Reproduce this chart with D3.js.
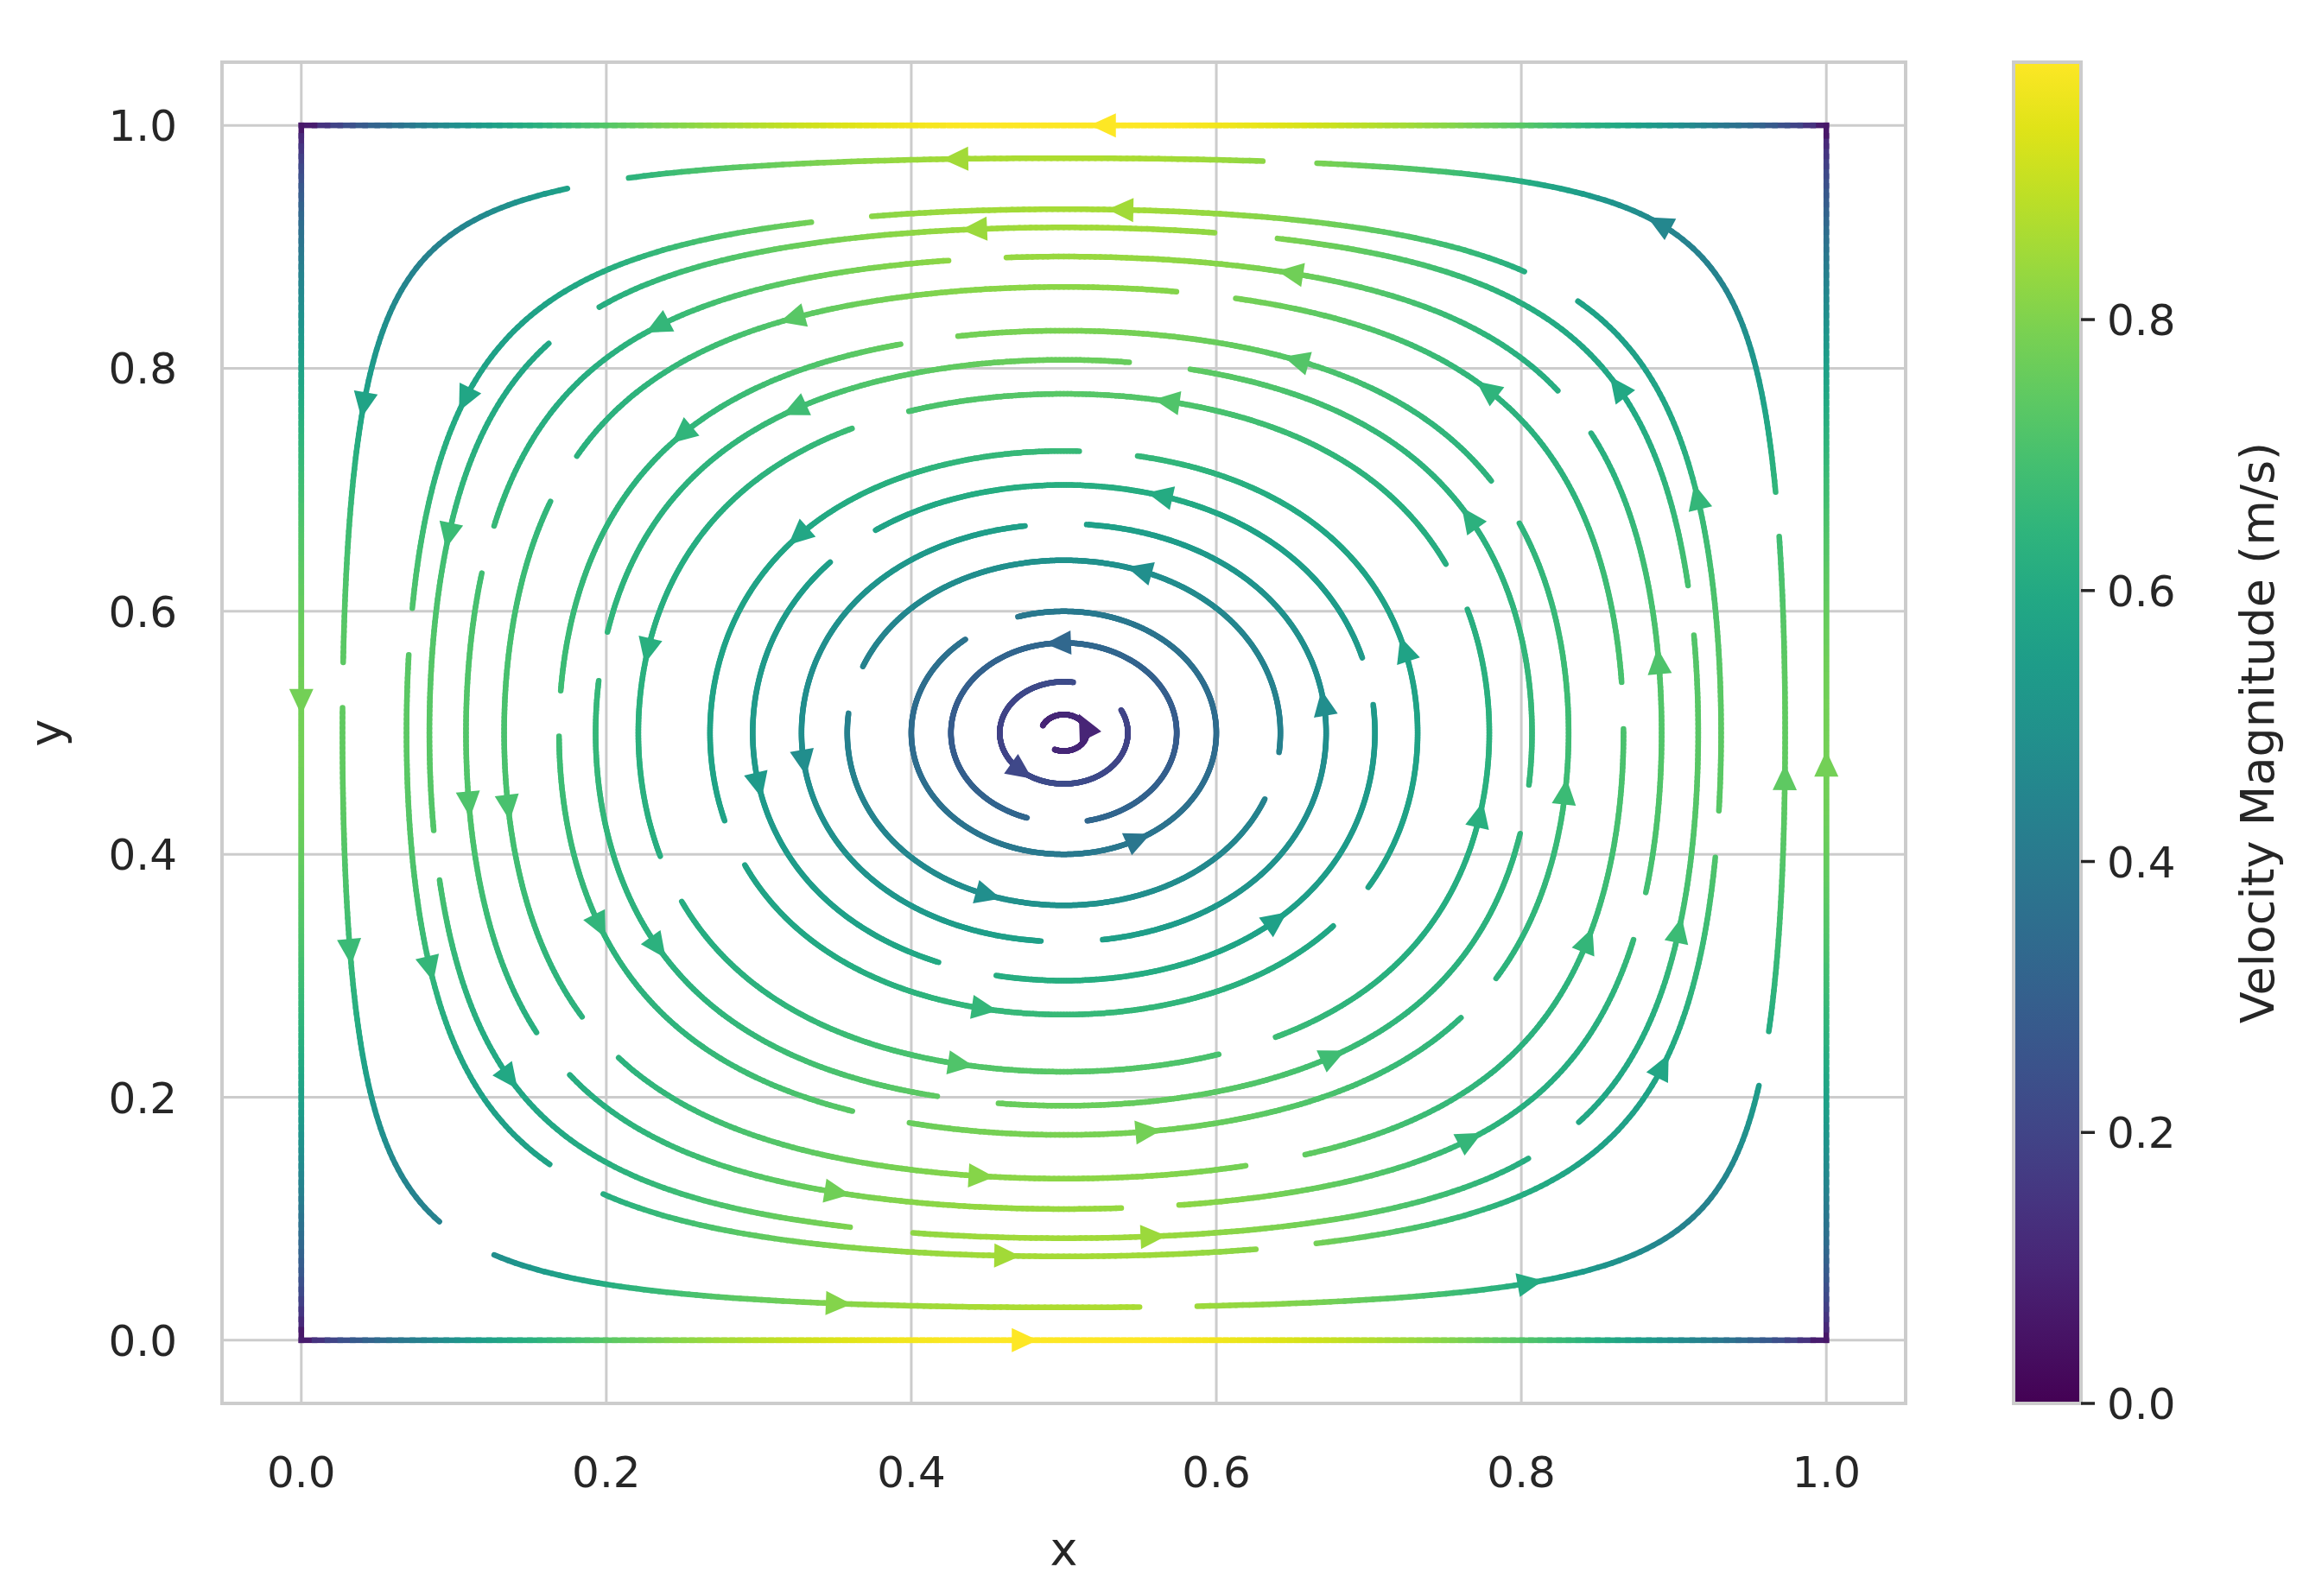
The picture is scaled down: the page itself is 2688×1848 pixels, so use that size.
<!DOCTYPE html>
<html lang="en">
<head>
  <meta charset="UTF-8">
  <script src="https://d3js.org/d3.v7.min.js"></script>
  <title>Lid vortex streamlines</title>
  <style>
    body { margin: 0; background: #fff; }
    text { font-family: "DejaVu Sans", sans-serif; fill: #262626; }
  </style>
</head>
<body>
<svg id="chart" width="2688" height="1848"></svg>
<script>
  // where each streamline crosses y = 0.5 on the right-hand side
  const loopCrossings = [1.0, 0.973, 0.931, 0.916, 0.892, 0.867, 0.831, 0.807, 0.779,
    0.732, 0.704, 0.672, 0.642, 0.6, 0.574, 0.542, 0.515];
  const xTicks = [0.0, 0.2, 0.4, 0.6, 0.8, 1.0];
  const yTicks = [0.0, 0.2, 0.4, 0.6, 0.8, 1.0];
  const barTicks = [0.0, 0.2, 0.4, 0.6, 0.8];
  const speedMax = 0.99;

  const svg = d3.select('#chart');
  const x = d3.scaleLinear().domain([-0.052, 1.052]).range([257, 2206]);
  const y = d3.scaleLinear().domain([-0.052, 1.052]).range([1625, 72]);
  const color = d3.scaleSequential(d3.interpolateViridis).domain([0, speedMax]);

  const psi = (px, py) => Math.sin(Math.PI * px) * Math.sin(Math.PI * py);
  const speed = (px, py, edge) => {
    const u = Math.sin(Math.PI * px) * Math.cos(Math.PI * py);
    const v = -(edge ? 0.66 : 0.8) * Math.cos(Math.PI * px) * Math.sin(Math.PI * py);
    return (edge ? 1 : 0.87) * Math.pow(u * u + v * v, edge ? 0.3 : 0.33);
  };

  // grid + frame
  const grid = svg.append('g');
  xTicks.forEach(t => grid.append('line').attr('x1', x(t)).attr('x2', x(t)).attr('y1', 72).attr('y2', 1625)
    .attr('stroke', '#cccccc').attr('stroke-width', 3));
  yTicks.forEach(t => grid.append('line').attr('y1', y(t)).attr('y2', y(t)).attr('x1', 257).attr('x2', 2206)
    .attr('stroke', '#cccccc').attr('stroke-width', 3));
  svg.append('rect').attr('x', 257).attr('y', 72).attr('width', 1949).attr('height', 1553)
    .attr('fill', 'none').attr('stroke', '#cccccc').attr('stroke-width', 4);

  xTicks.forEach(t => svg.append('text').attr('x', x(t)).attr('y', 1722).attr('text-anchor', 'middle')
    .attr('font-size', 50).text(t.toFixed(1)));
  yTicks.forEach(t => svg.append('text').attr('x', 205).attr('y', y(t) + 18).attr('text-anchor', 'end')
    .attr('font-size', 50).text(t.toFixed(1)));
  svg.append('text').attr('x', x(0.5)).attr('y', 1812).attr('text-anchor', 'middle').attr('font-size', 54).text('x');
  svg.append('text').attr('transform', `translate(72,${y(0.5)}) rotate(-90)`).attr('text-anchor', 'middle')
    .attr('font-size', 54).text('y');

  // point on streamline of level c along the ray at angle th from the centre
  function rayPoint(c, th) {
    const dx = Math.cos(th), dy = Math.sin(th);
    const rmax = 0.5 / Math.max(Math.abs(dx), Math.abs(dy));
    if (c <= 0) return [0.5 + rmax * dx, 0.5 + rmax * dy];
    let lo = 0, hi = rmax;
    for (let k = 0; k < 40; k++) {
      const m = (lo + hi) / 2;
      if (psi(0.5 + m * dx, 0.5 + m * dy) > c) lo = m; else hi = m;
    }
    return [0.5 + lo * dx, 0.5 + lo * dy];
  }

  const lines = svg.append('g');
  const arrows = svg.append('g');
  const N = 720;

  function drawArrow(p, q, edge) {
    const ax = x(p[0]), ay = y(p[1]);
    const ang = Math.atan2(y(q[1]) - ay, x(q[0]) - ax) * 180 / Math.PI;
    arrows.append('path').attr('d', 'M16,0 L-14,-14 L-14,14 Z')
      .attr('transform', `translate(${ax},${ay}) rotate(${ang})`)
      .attr('fill', color(speed(p[0], p[1], edge)));
  }

  loopCrossings.forEach((cx, i) => {
    let c = Math.sin(Math.PI * cx);
    if (c < 1e-6) c = 0;
    const edge = c === 0;
    const pts = d3.range(N + 1).map(k => rayPoint(c, (k / N) * 2 * Math.PI));
    let per = 0;
    for (let k = 0; k < N; k++) per += Math.hypot(pts[k + 1][0] - pts[k][0], pts[k + 1][1] - pts[k][1]);
    const nArcs = edge ? 4 : Math.max(1, Math.round(per / 0.45));
    const gap = edge ? 0 : Math.min(0.25, 0.04 / per * nArcs);
    const off = edge ? 0.5 : (i * 0.41) % 1;
    for (let a = 0; a < nArcs; a++) {
      const f0 = (a + off) / nArcs + gap / 2 / nArcs, f1 = (a + 1 + off) / nArcs - gap / 2 / nArcs;
      const k0 = Math.round(f0 * N), k1 = Math.round(f1 * N);
      for (let k = k0; k < k1; k++) {
        const p = pts[k % N], q = pts[(k + 1) % N];
        lines.append('line').attr('x1', x(p[0])).attr('y1', y(p[1])).attr('x2', x(q[0])).attr('y2', y(q[1]))
          .attr('stroke', color(speed((p[0] + q[0]) / 2, (p[1] + q[1]) / 2, edge)))
          .attr('stroke-width', 6.5).attr('stroke-linecap', edge ? 'square' : 'round');
      }
      const km = Math.round((k0 + k1) / 2) + (edge ? -6 : (i % 3 - 1) * 12);
      drawArrow(pts[km % N], pts[(km + 2) % N], edge);
    }
  });

  // colour bar
  const bx = 2331, bw = 78;
  const by = d3.scaleLinear().domain([0, speedMax]).range([1625, 72]);
  const defs = svg.append('defs');
  const grad = defs.append('linearGradient').attr('id', 'vir').attr('x1', 0).attr('y1', 1).attr('x2', 0).attr('y2', 0);
  d3.range(0, 1.01, 0.05).forEach(t => grad.append('stop').attr('offset', t).attr('stop-color', d3.interpolateViridis(t)));
  svg.append('rect').attr('x', bx).attr('y', 72).attr('width', bw).attr('height', 1553).attr('fill', 'url(#vir)')
    .attr('stroke', '#cccccc').attr('stroke-width', 4);
  barTicks.forEach(t => {
    svg.append('line').attr('x1', bx + bw).attr('x2', bx + bw + 16).attr('y1', by(t)).attr('y2', by(t))
      .attr('stroke', '#262626').attr('stroke-width', 3.5);
    svg.append('text').attr('x', bx + bw + 30).attr('y', by(t) + 18).attr('font-size', 50).text(t.toFixed(1));
  });
  svg.append('text').attr('transform', `translate(2632,${(72 + 1625) / 2}) rotate(-90)`).attr('text-anchor', 'middle')
    .attr('font-size', 54).text('Velocity Magnitude (m/s)');
</script>
</body>
</html>
